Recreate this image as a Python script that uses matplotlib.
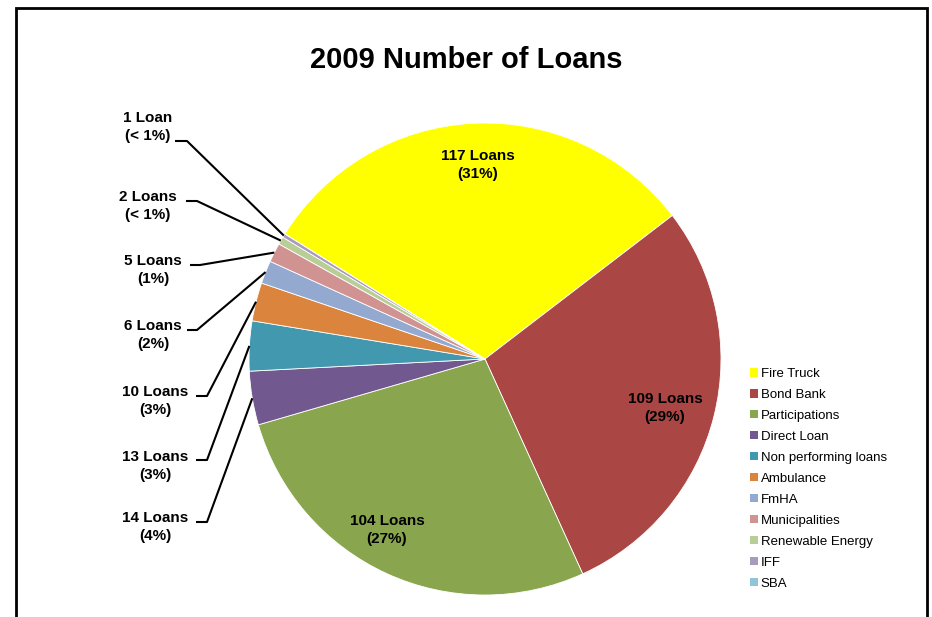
import numpy as np
import matplotlib
matplotlib.use("Agg")
import matplotlib.pyplot as plt
from matplotlib.patches import Patch, Rectangle

plt.rcParams['font.family'] = ['Liberation Sans', 'DejaVu Sans']

categories = ["Fire Truck", "Bond Bank", "Participations", "Direct Loan",
              "Non performing loans", "Ambulance", "FmHA", "Municipalities",
              "Renewable Energy", "IFF", "SBA"]
loans = [117, 109, 104, 14, 13, 10, 6, 5, 2, 1, 0]
colors = ["#FFFF00", "#AA4643", "#89A54E", "#71588F", "#4198AF", "#DB843D",
          "#93A9CF", "#D19392", "#B9CD96", "#A99BBD", "#92C5D8"]
title = "2009 Number of Loans"

W, H = 932, 617
CX, CY, R = 485, 359, 236          # pie centre / radius in pixels


def px(x, y):
    # pixel (from top-left) -> data coords, 1 unit = pie radius
    return (x - CX) / R, (CY - y) / R


fig = plt.figure(figsize=(W / 100, H / 100), dpi=100)
ax = fig.add_axes([0, 0, 1, 1])

vals = np.array(loans, dtype=float)
wedges, _ = ax.pie(vals, colors=colors, startangle=148, counterclock=False,
                   radius=1.0, center=(0, 0), frame=True,
                   wedgeprops=dict(edgecolor='white', linewidth=0.6))
ax.set_xlim(-CX / R, (W - CX) / R)
ax.set_ylim(-(H - CY) / R, CY / R)
ax.set_aspect('equal')
ax.axis('off')

# chart border (bottom edge falls outside the picture)
x0, y0 = px(16, 8)
x1, _ = px(927, 8)
ax.add_patch(Rectangle((x0, y0 - 5), x1 - x0, 5, fill=False, ec='black', lw=2))

total = vals.sum()


def pct(v):
    p = 100 * v / total
    return "(< 1%)" if p < 1 else "(%d%%)" % round(p)


def label(v):
    return "%d Loan%s" % (v, "" if v == 1 else "s")


# labels inside the three large slices
inner_pos = {0: (478, 165), 1: (665, 408), 2: (387, 530)}
for i, (x, y) in inner_pos.items():
    ax.text(*px(x, y), label(loans[i]) + "\n" + pct(loans[i]), ha='center',
            va='center', fontsize=11, fontweight='bold', linespacing=1.4)

# outer labels for small slices: text centre, elbow start/end
outer = {
    9: ((148, 127), (175, 141), (187, 141)),
    8: ((148, 206), (186, 201), (197, 201)),
    7: ((153, 270), (190, 265), (200, 265)),
    6: ((153, 335), (187, 330), (197, 330)),
    5: ((155, 401), (196, 396), (207, 396)),
    4: ((155, 466), (196, 460), (207, 460)),
    3: ((155, 527), (196, 522), (207, 522)),
}
for i, (tpos, e0, e1) in outer.items():
    w = wedges[i]
    mid = np.deg2rad((w.theta1 + w.theta2) / 2)
    tip = (np.cos(mid), np.sin(mid))
    ax.text(*px(*tpos), label(loans[i]) + "\n" + pct(loans[i]), ha='center',
            va='center', fontsize=11, fontweight='bold', linespacing=1.4)
    a, b = px(*e0), px(*e1)
    ax.plot([a[0], b[0], tip[0]], [a[1], b[1], tip[1]], color='black', lw=1.5,
            solid_capstyle='butt')

ax.text(*px(466, 60), title, ha='center', va='center', fontsize=21,
        fontweight='bold')

handles = [Patch(facecolor=c, edgecolor='none') for c in colors]
fig.legend(handles, categories, loc='upper left',
           bbox_to_anchor=(750 / W, 1 - 368 / H), frameon=False,
           fontsize=9.5, handlelength=0.6, handleheight=0.6,
           handletextpad=0.2, labelspacing=0.68, borderpad=0, borderaxespad=0)

fig.savefig("out.png", dpi=100)
